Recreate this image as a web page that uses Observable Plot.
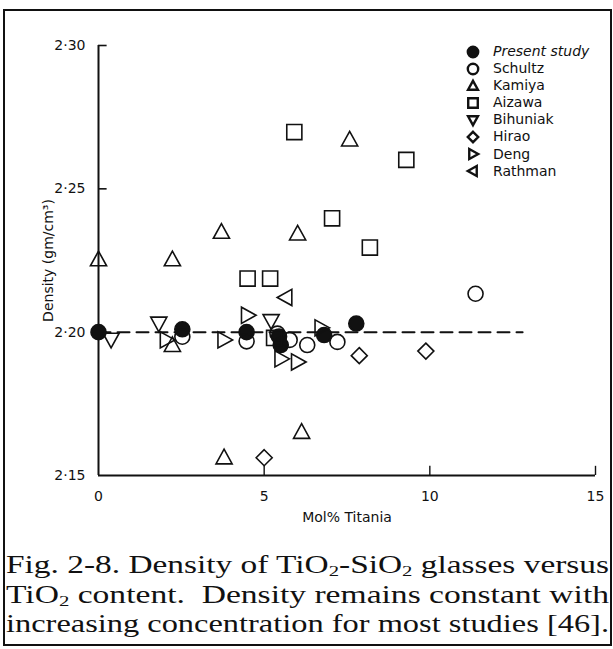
<!DOCTYPE html>
<html><head><meta charset="utf-8">
<script src="https://cdn.jsdelivr.net/npm/d3@7"></script>
<script src="https://cdn.jsdelivr.net/npm/@observablehq/plot@0.6"></script>
<style>
html,body{margin:0;padding:0;background:#fff;}
#wrap{position:relative;width:613px;height:649px;overflow:hidden;background:#fff;}
#frame{position:absolute;left:3px;top:9px;width:609px;height:637px;border:2px solid #111;box-sizing:border-box;pointer-events:none;}
#chart{position:absolute;left:0;top:0;}
#legend{position:absolute;left:465px;top:43px;font-family:"DejaVu Sans";font-size:14px;color:#111;}
#legend .row{height:17.1px;line-height:17.1px;white-space:nowrap;display:flex;align-items:center;}
#legend svg{width:16px;height:16px;margin-right:12px;}
.cap{position:absolute;left:6px;font-family:"Liberation Serif","Times New Roman",serif;font-size:25px;color:#111;white-space:nowrap;transform-origin:0 50%;line-height:28px;height:28px;}
.cap sub{font-size:0.62em;position:relative;top:0.22em;vertical-align:baseline;line-height:0;}
</style></head>
<body>
<div id="wrap">
  <div id="chart"></div>
  <div id="legend"></div>
  <div class="cap" id="c1" style="top:551px">Fig. 2-8. Density of TiO<sub>2</sub>-SiO<sub>2</sub> glasses versus</div>
  <div class="cap" id="c2" style="top:581px">TiO<sub>2</sub> content.&nbsp; Density remains constant with</div>
  <div class="cap" id="c3" style="top:610px">increasing concentration for most studies [46].</div>
  <div id="frame"></div>
</div>
<script>
// ---- data ----
const seriesNames = ["Present study","Schultz","Kamiya","Aizawa","Bihuniak","Hirao","Deng","Rathman"];
const presentX = [0, 2.53, 4.47, 5.45, 5.5, 6.81, 7.78];
const presentY = [2.200, 2.201, 2.200, 2.1985, 2.1955, 2.199, 2.203];
const schultzX = [2.53, 4.47, 5.4, 5.77, 6.30, 7.21, 11.38];
const schultzY = [2.1984, 2.1968, 2.1995, 2.1973, 2.1955, 2.1966, 2.2134];
const kamiyaX = [0, 2.23, 2.23, 3.71, 6.01, 7.58, 6.13, 3.79];
const kamiyaY = [2.2253, 2.2253, 2.1954, 2.2349, 2.2343, 2.2671, 2.1651, 2.1562];
const aizawaX = [5.91, 9.29, 7.05, 8.19, 4.50, 5.18, 5.3];
const aizawaY = [2.2698, 2.2601, 2.2397, 2.2295, 2.2187, 2.2187, 2.1980];
const bihuniakX = [0.38, 1.82, 5.21];
const bihuniakY = [2.1975, 2.2031, 2.2040];
const hiraoX = [7.87, 9.88, 5.0];
const hiraoY = [2.1918, 2.1934, 2.1562];
const dengX = [2.05, 3.79, 4.50, 5.51, 6.01, 6.72];
const dengY = [2.1973, 2.1973, 2.2059, 2.1907, 2.1896, 2.2015];
const rathmanX = [5.65];
const rathmanY = [2.2121];
const trendX = [0, 12.8];
const trendY = [2.20, 2.20];
const xTicks = [0, 5, 10, 15];
const xTickLabels = ["0", "5", "10", "15"];
const yTicks = [2.15, 2.20, 2.25, 2.30];
const yTickLabels = ["2·15", "2·20", "2·25", "2·30"];
const xTickMarks = [5, 10, 15];
const yTickMarks = [2.20, 2.25, 2.30];

// ---- symbols ----
function rad(s){ return Math.sqrt(s/Math.PI); }
const SYM = {
  circle: {draw(c,s){const r=rad(s); c.moveTo(r,0); c.arc(0,0,r,0,2*Math.PI);}},
  square: {draw(c,s){const r=rad(s)*0.92; c.rect(-r,-r,2*r,2*r);}},
  up: {draw(c,s){const r=rad(s); c.moveTo(0,-r); c.lineTo(r*0.95,r*0.72); c.lineTo(-r*0.95,r*0.72); c.closePath();}},
  down: {draw(c,s){const r=rad(s); c.moveTo(0,r); c.lineTo(r*0.95,-r*0.72); c.lineTo(-r*0.95,-r*0.72); c.closePath();}},
  right: {draw(c,s){const r=rad(s); c.moveTo(r,0); c.lineTo(-r*0.72,-r*0.95); c.lineTo(-r*0.72,r*0.95); c.closePath();}},
  left: {draw(c,s){const r=rad(s); c.moveTo(-r,0); c.lineTo(r*0.72,-r*0.95); c.lineTo(r*0.72,r*0.95); c.closePath();}},
  diamond: {draw(c,s){const r=rad(s); c.moveTo(0,-r); c.lineTo(r,0); c.lineTo(0,r); c.lineTo(-r,0); c.closePath();}}
};
const series = [
  {name: seriesNames[0], xs: presentX, ys: presentY, sym: SYM.circle, filled: true, r: 7.5},
  {name: seriesNames[1], xs: schultzX, ys: schultzY, sym: SYM.circle, filled: false, r: 7.5},
  {name: seriesNames[2], xs: kamiyaX, ys: kamiyaY, sym: SYM.up, filled: false, r: 8.5},
  {name: seriesNames[3], xs: aizawaX, ys: aizawaY, sym: SYM.square, filled: false, r: 8.2},
  {name: seriesNames[4], xs: bihuniakX, ys: bihuniakY, sym: SYM.down, filled: false, r: 8.5},
  {name: seriesNames[5], xs: hiraoX, ys: hiraoY, sym: SYM.diamond, filled: false, r: 8},
  {name: seriesNames[6], xs: dengX, ys: dengY, sym: SYM.right, filled: false, r: 8.5},
  {name: seriesNames[7], xs: rathmanX, ys: rathmanY, sym: SYM.left, filled: false, r: 8.5}
];
const toRows = (xs, ys) => xs.map((x, i) => ({x, y: ys[i]}));

const marks = [
  Plot.ruleX([0], {stroke: "#111", strokeWidth: 2}),
  Plot.ruleY([2.15], {stroke: "#111", strokeWidth: 2}),
  Plot.ruleY(yTickMarks, {x1: 0, x2: 0.26, stroke: "#111", strokeWidth: 1.6}),
  Plot.ruleX(xTickMarks, {y1: 2.15, y2: 2.1532, stroke: "#111", strokeWidth: 1.4}),
  Plot.line(toRows(trendX, trendY), {x: "x", y: "y", stroke: "#111", strokeWidth: 2, strokeDasharray: "12,7"}),
  Plot.axisX(xTicks, {tickSize: 0, tickPadding: 16, tickFormat: d => xTickLabels[xTicks.indexOf(d)], label: "Mol% Titania", labelAnchor: "center", labelOffset: 46, labelArrow: "none", fontSize: 14}),
  Plot.axisY(yTicks, {tickSize: 0, tickPadding: 13, tickFormat: d => yTickLabels[yTicks.indexOf(d)], label: "Density (gm/cm³)", labelAnchor: "center", labelOffset: 55, labelArrow: "none", fontSize: 14})
];
for (const s of series) {
  marks.push(Plot.dot(toRows(s.xs, s.ys), {x: "x", y: "y", symbol: s.sym, r: s.r,
    fill: s.filled ? "#111" : "none", stroke: "#111", strokeWidth: 1.6}));
}

const chart = Plot.plot({
  width: 613, height: 530,
  marginLeft: 98, marginRight: 18, marginTop: 45, marginBottom: 55,
  x: {domain: [0, 15]},
  y: {domain: [2.15, 2.30]},
  style: {fontFamily: "DejaVu Sans", fontSize: "14px", color: "#111", background: "transparent"},
  marks
});
document.getElementById("chart").append(chart);

// ---- legend ----
const leg = document.getElementById("legend");
for (const s of series) {
  const row = document.createElement("div"); row.className = "row";
  const p = d3.path(); s.sym.draw(p, Math.PI * 5.2 * 5.2);
  row.innerHTML = `<svg viewBox="-8 -8 16 16"><path d="${p.toString()}" fill="${s.filled ? "#111" : "none"}" stroke="#111" stroke-width="2.4"/></svg>`;
  const t = document.createElement("span"); t.textContent = s.name;
  if (s.name === "Present study") t.style.fontStyle = "italic";
  row.append(t); leg.append(row);
}

// ---- caption fit ----
for (const id of ["c1","c2","c3"]) {
  const el = document.getElementById(id);
  const w = el.getBoundingClientRect().width;
  el.style.transform = `scaleX(${603 / w})`;
}
</script>
</body></html>
